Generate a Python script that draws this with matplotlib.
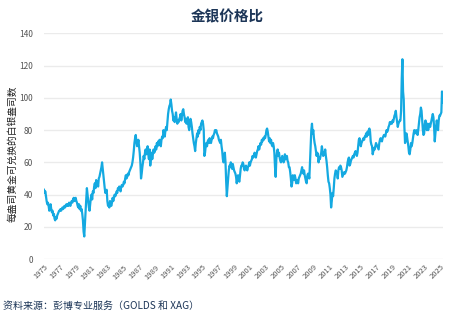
import numpy as np
import matplotlib
matplotlib.use("Agg")
import matplotlib.pyplot as plt

plt.rcParams['font.family'] = ['Noto Sans CJK SC', 'DejaVu Sans']

title = "金银价格比"
ylabel = "每盎司黄金可兑换的白银盎司数"
source = "资料来源：彭博专业服务（GOLDS 和 XAG）"

start_year = 1975
# Monthly gold/silver ratio
ratio_1975_1979 = [
    43, 41, 42, 39, 36, 34, 35, 33, 30, 32, 34, 31,
    29, 30, 27, 28, 25, 24, 26, 25, 27, 28, 29, 30,
    30, 31, 30, 31, 32, 31, 32, 33, 32, 33, 34, 33,
    34, 33, 35, 34, 33, 35, 36, 35, 37, 38, 36, 37,
    38, 36, 35, 33, 32, 34, 31, 33, 30, 31, 28, 24,
]
ratio_1980_1984 = [
    17, 14, 22, 30, 37, 44, 40, 36, 32, 30, 34, 38,
    40, 37, 42, 41, 45, 47, 44, 49, 46, 48, 45, 50,
    51, 53, 55, 57, 60, 56, 52, 48, 44, 41, 42, 43,
    36, 33, 34, 32, 36, 34, 33, 35, 38, 36, 38, 40,
    39, 40, 42, 41, 44, 43, 45, 44, 42, 45, 46, 45,
]
ratio_1985_1989 = [
    46, 48, 47, 50, 52, 50, 51, 53, 52, 54, 55, 56,
    57, 58, 60, 63, 67, 72, 75, 77, 73, 70, 71, 74,
    70, 66, 60, 50, 53, 57, 60, 64, 62, 66, 68, 65,
    67, 70, 65, 62, 68, 58, 63, 66, 62, 65, 68, 66,
    67, 70, 68, 72, 70, 73, 71, 74, 72, 70, 74, 76,
]
ratio_1990_1994 = [
    75, 80, 78, 76, 80, 82, 80, 85, 90, 93, 95, 96,
    99, 96, 92, 90, 86, 88, 85, 88, 91, 87, 84, 86,
    85, 87, 88, 90, 86, 89, 92, 93, 90, 88, 85, 87,
    84, 86, 88, 82, 80, 84, 87, 85, 82, 78, 75, 72,
    70, 67, 72, 75, 78, 76, 80, 78, 82, 80, 84, 85,
]
ratio_1995_1999 = [
    86, 84, 80, 64, 66, 70, 72, 70, 73, 74, 72, 75,
    73, 72, 74, 76, 75, 77, 78, 80, 79, 80, 78, 77,
    76, 74, 73, 72, 74, 70, 67, 62, 60, 64, 66, 60,
    48, 39, 45, 50, 55, 58, 57, 60, 58, 56, 59, 57,
    55, 54, 53, 51, 47, 50, 52, 49, 48, 52, 56, 58,
]
ratio_2000_2004 = [
    58, 60, 59, 56, 55, 57, 58, 56, 55, 57, 58, 60,
    58, 60, 61, 62, 64, 63, 64, 66, 65, 63, 65, 67,
    68, 70, 68, 70, 72, 71, 74, 73, 75, 74, 76, 75,
    77, 80, 81, 79, 76, 73, 75, 72, 74, 71, 70, 72,
    70, 66, 57, 51, 62, 66, 68, 64, 66, 63, 61, 60,
]
ratio_2005_2009 = [
    62, 64, 62, 60, 61, 65, 62, 63, 64, 61, 60, 57,
    57, 54, 50, 45, 47, 52, 50, 49, 52, 50, 47, 48,
    49, 47, 50, 51, 52, 53, 55, 57, 54, 53, 55, 52,
    50, 48, 47, 52, 53, 52, 50, 60, 70, 80, 84, 78,
    80, 75, 72, 70, 67, 64, 66, 65, 60, 63, 62, 64,
]
ratio_2010_2014 = [
    66, 70, 67, 64, 66, 65, 68, 64, 61, 57, 52, 48,
    47, 44, 40, 32, 36, 41, 39, 44, 50, 53, 55, 54,
    54, 50, 55, 57, 56, 58, 57, 55, 51, 52, 53, 54,
    53, 54, 55, 57, 60, 62, 63, 58, 59, 61, 62, 63,
    64, 63, 65, 66, 67, 65, 64, 66, 70, 74, 75, 73,
]
ratio_2015_2019 = [
    70, 72, 73, 74, 75, 74, 76, 76, 78, 76, 79, 77,
    80, 81, 79, 73, 71, 70, 65, 67, 69, 68, 70, 72,
    71, 70, 69, 68, 72, 74, 75, 74, 73, 75, 76, 77,
    77, 76, 78, 80, 79, 80, 82, 83, 85, 84, 85, 84,
    86, 85, 87, 89, 90, 92, 88, 85, 82, 84, 85, 86,
]
ratio_2020_2025 = [
    86, 92, 112, 124, 104, 99, 82, 72, 74, 78, 76, 73,
    70, 66, 65, 68, 72, 70, 72, 75, 78, 80, 78, 79,
    80, 78, 77, 80, 84, 88, 90, 94, 92, 86, 80, 77,
    78, 84, 86, 82, 80, 84, 80, 82, 84, 82, 84, 86,
    88, 90, 88, 82, 73, 78, 82, 86, 84, 80, 86, 89,
    89, 90, 91, 104, 97,
]

ratio = np.array(ratio_1975_1979 + ratio_1980_1984 + ratio_1985_1989 +
                 ratio_1990_1994 + ratio_1995_1999 + ratio_2000_2004 +
                 ratio_2005_2009 + ratio_2010_2014 + ratio_2015_2019 +
                 ratio_2020_2025, dtype=float)
t = start_year + np.arange(len(ratio)) / 12.0

xtick_years = list(range(1975, 2026, 2))
yticks = [0, 20, 40, 60, 80, 100, 120, 140]

fig = plt.figure(figsize=(4.68, 3.25), dpi=100)
ax = fig.add_axes([0.094, 0.203, 0.853, 0.694])

ax.plot(t, ratio, color='#14a9e1', lw=1.6, solid_joinstyle='round')

ax.set_xlim(1975, 2025.4)
ax.set_ylim(0, 140)
ax.set_yticks(yticks)
ax.set_xticks(xtick_years)
ax.set_xticklabels([str(y) for y in xtick_years], rotation=45, ha='right',
                   rotation_mode='anchor', fontsize=5.5, color='#555555')
ax.set_yticklabels([str(v) for v in yticks], fontsize=6, color='#555555')
ax.tick_params(axis='both', length=0)
ax.tick_params(axis='x', pad=3)
ax.tick_params(axis='y', pad=8)
ax.grid(axis='y', color='#ebebeb', lw=1.0)
ax.set_axisbelow(True)
for s in ax.spines.values():
    s.set_visible(False)

ax.set_ylabel(ylabel, fontsize=7, color='#222222')
ax.yaxis.set_label_coords(-0.066, 0.465)

fig.text(0.485, 0.95, title, ha='center', va='center', fontsize=10.5,
         fontweight='bold', color='#1c3557')
fig.text(0.006, 0.058, source, ha='left', va='center', fontsize=7.2,
         color='#1c3557')

fig.savefig('out.png', dpi=100)
